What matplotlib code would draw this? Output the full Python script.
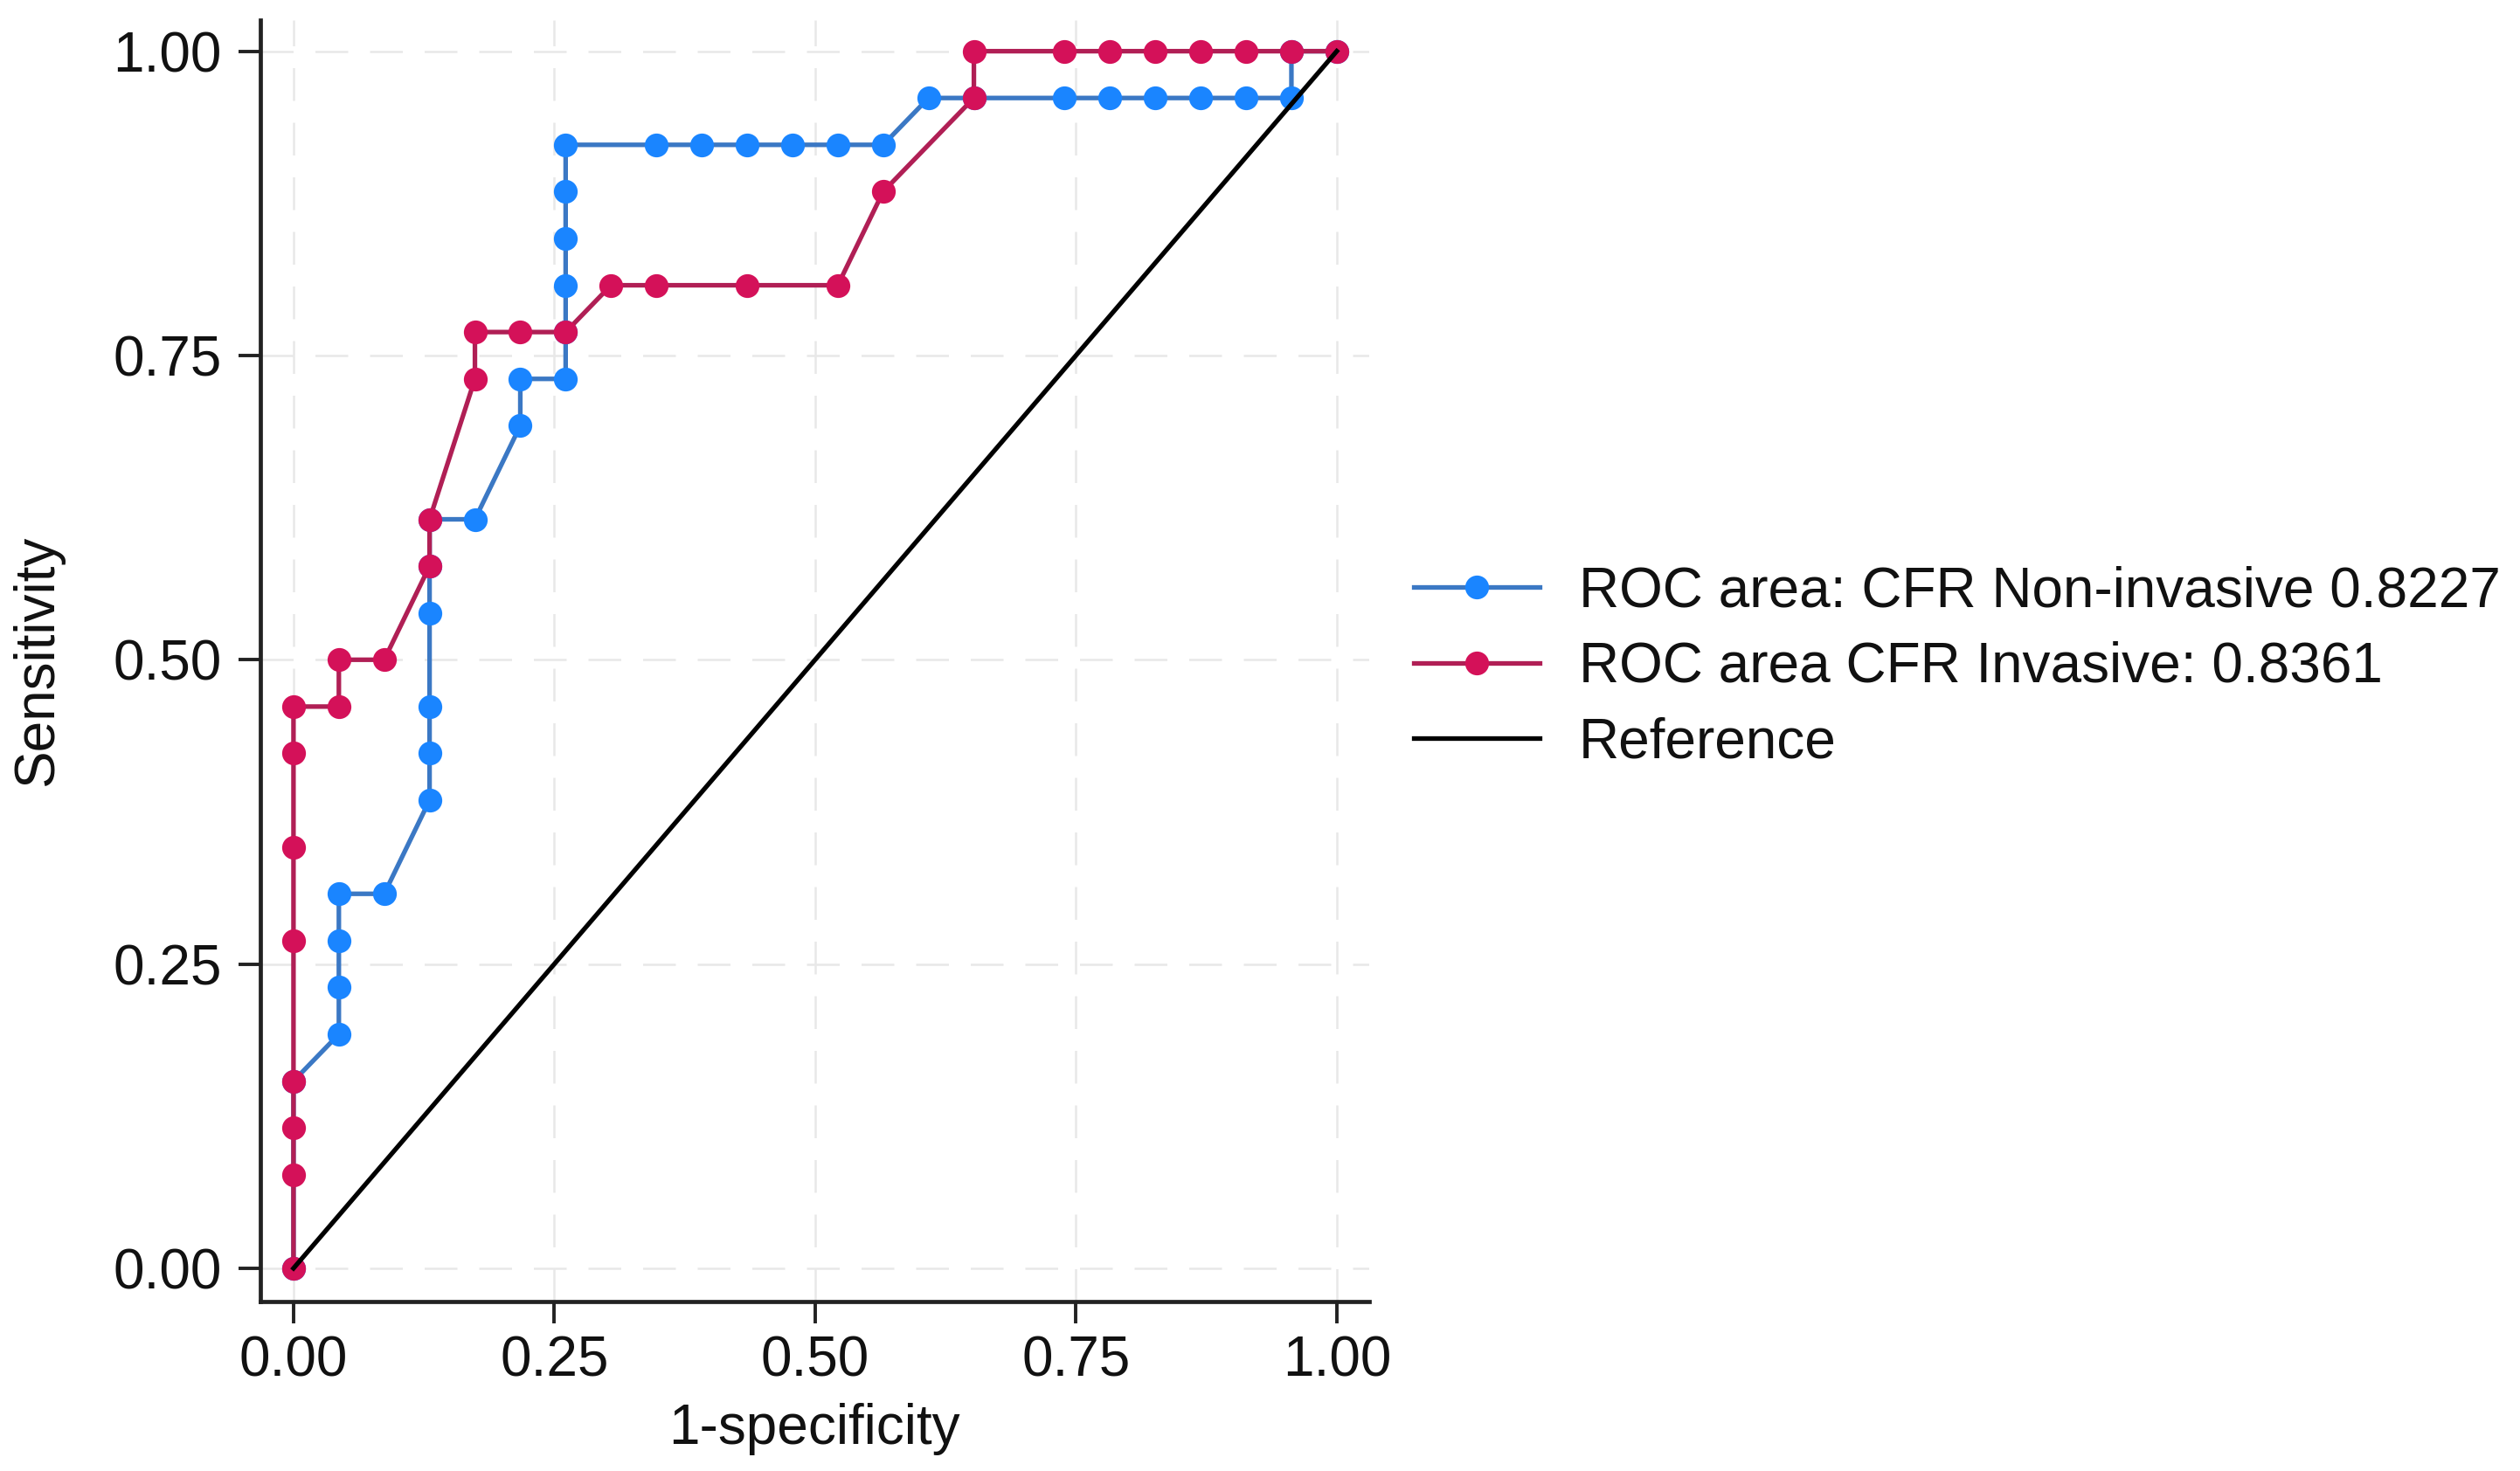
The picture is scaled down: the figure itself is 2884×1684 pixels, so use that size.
import numpy as np
import matplotlib.pyplot as plt

plt.rcParams['font.family'] = ['Liberation Sans', 'DejaVu Sans']

# false positive / true positive counts (23 negatives, 26 positives)
n_neg = 23
n_pos = 26

noninv_fp = [0, 0, 1, 1, 1, 1, 2, 3, 3, 3, 3, 3, 3, 4, 5, 5, 6, 6, 6, 6, 6, 6,
             8, 9, 10, 11, 12, 13, 14, 15, 17, 18, 19, 20, 21, 22, 22, 23]
noninv_tp = [0, 4, 5, 6, 7, 8, 8, 10, 11, 12, 14, 15, 16, 16, 18, 19, 19, 20, 21, 22, 23, 24,
             24, 24, 24, 24, 24, 24, 25, 25, 25, 25, 25, 25, 25, 25, 26, 26]

inv_fp = [0, 0, 0, 0, 0, 0, 0, 0, 1, 1, 2, 3, 3, 4, 4, 5, 6, 7, 8, 10, 12, 13,
          15, 15, 17, 18, 19, 20, 21, 22, 23]
inv_tp = [0, 2, 3, 4, 7, 9, 11, 12, 12, 13, 13, 15, 16, 19, 20, 20, 20, 21, 21, 21, 21, 23,
          25, 26, 26, 26, 26, 26, 26, 26, 26]

labels = ['ROC area: CFR Non-invasive 0.8227',
          'ROC area CFR Invasive: 0.8361',
          'Reference']
ticks = [0.0, 0.25, 0.5, 0.75, 1.0]
tick_labels = ['0.00', '0.25', '0.50', '0.75', '1.00']

fs = 23

fig = plt.figure(figsize=(14.42, 8.42), dpi=200)
ax = fig.add_axes([0.1033, 0.1152, 0.44, 0.8711])

ax.plot(np.array(noninv_fp) / n_neg, np.array(noninv_tp) / n_pos,
        color='#3b78c4', lw=1.9, marker='o', ms=8.8,
        mfc='#1a85ff', mec='#1a85ff', label=labels[0], zorder=3)
ax.plot(np.array(inv_fp) / n_neg, np.array(inv_tp) / n_pos,
        color='#b01f55', lw=1.9, marker='o', ms=8.8,
        mfc='#d41159', mec='#d41159', label=labels[1], zorder=4)
ax.plot([0, 1], [0, 1], color='black', lw=1.9, label=labels[2], zorder=5)

ax.set_xlim(-0.0318, 1.031)
ax.set_ylim(-0.0273, 1.0255)
ax.set_xticks(ticks)
ax.set_xticklabels(tick_labels)
ax.set_yticks(ticks)
ax.set_yticklabels(tick_labels)
ax.tick_params(labelsize=fs, length=9, width=1.4, pad=7, colors='#222222',
               labelcolor='#111111')
ax.tick_params(axis='x', pad=5)

ax.grid(True, color='#e8e8e8', linestyle=(0, (15, 10)), linewidth=0.9, zorder=0)
ax.set_axisbelow(True)
for s in ['top', 'right']:
    ax.spines[s].set_visible(False)
for s in ['left', 'bottom']:
    ax.spines[s].set_linewidth(1.7)
    ax.spines[s].set_color('#222222')

ax.set_xlabel('1-specificity', fontsize=fs, labelpad=6, color='#111111')
ax.set_ylabel('Sensitivity', fontsize=fs, labelpad=20, color='#111111')

fig.legend(loc='center left', bbox_to_anchor=(0.561, 0.5464), frameon=False,
           fontsize=fs, handlelength=2.26, handletextpad=0.7, labelspacing=0.41,
           borderpad=0, borderaxespad=0, labelcolor='#111111')

fig.savefig('out.png', dpi=200)
